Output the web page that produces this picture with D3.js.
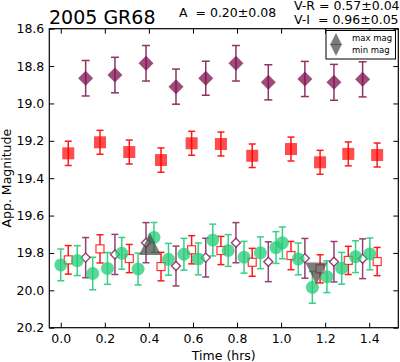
<html>
  <head>
    <style>
      body { margin: 0; background: #fff; }
      text { font-family: "DejaVu Sans", sans-serif; }
    </style>
  </head>
  <body>
    <svg width="400" height="362"></svg>
    <script src="https://d3js.org/d3.v7.min.js"></script>
    <script>
      // R band (filled squares) and I band (filled diamonds)
      var rTime = [0.034, 0.178, 0.311, 0.455, 0.594, 0.727, 0.869, 1.045, 1.177, 1.305, 1.436];
      var rMag  = [19.267, 19.208, 19.260, 19.303, 19.213, 19.217, 19.280, 19.244, 19.315, 19.270, 19.276];
      var rErr  = [0.065, 0.064, 0.064, 0.065, 0.064, 0.064, 0.063, 0.064, 0.064, 0.064, 0.064];

      var iTime = [0.113, 0.246, 0.387, 0.523, 0.658, 0.795, 0.942, 1.108, 1.240, 1.370];
      var iMag  = [18.865, 18.848, 18.785, 18.910, 18.865, 18.785, 18.887, 18.869, 18.887, 18.871];
      var iErr  = [0.095, 0.095, 0.095, 0.094, 0.091, 0.095, 0.094, 0.094, 0.096, 0.094];

      // V band (green circles)
      var vTime = [0.000, 0.075, 0.145, 0.212, 0.277, 0.351, 0.423, 0.489, 0.559, 0.624, 0.690,
                   0.760, 0.832, 0.906, 0.977, 1.006, 1.078, 1.142, 1.208, 1.275, 1.338, 1.403];
      var vMag  = [19.864, 19.841, 19.910, 19.883, 19.802, 19.886, 19.717, 19.834, 19.807, 19.832, 19.731,
                   19.787, 19.823, 19.799, 19.771, 19.746, 19.832, 19.984, 19.927, 19.882, 19.820, 19.805];
      var vErr  = [0.085, 0.080, 0.087, 0.085, 0.085, 0.085, 0.080, 0.085, 0.085, 0.085, 0.085,
                   0.085, 0.085, 0.085, 0.085, 0.085, 0.085, 0.085, 0.085, 0.085, 0.085, 0.085];

      var colorVR = 0.57, colorVRErr = 0.04;
      var colorVI = 0.96, colorVIErr = 0.05;

      // light-curve extremes
      var maxMag = { t: 0.405, mag: 19.752 };
      var minMag = { t: 1.160, mag: 19.910 };

      var xTicks = [0.0, 0.2, 0.4, 0.6, 0.8, 1.0, 1.2, 1.4];
      var yTicks = [18.6, 18.8, 19.0, 19.2, 19.4, 19.6, 19.8, 20.0, 20.2];

      var svg = d3.select("svg");
      var pL = 49.3, pR = 398.3, pT = 28.7, pB = 327.7;

      var x = d3.scaleLinear().domain([-0.052, 1.532]).range([pL, pR]);
      var y = d3.scaleLinear().domain([18.6, 20.2]).range([pT, pB]);

      var cGreen = "#22cc77", cRed = "#ff0000", cPurple = "#7d1050";

      function errorBars(g, t, m, e, color, op, cap) {
        var d = t.map(function(v, i) { return { t: v, m: m[i], e: e[i] }; });
        var bars = g.append("g").attr("stroke", color).attr("stroke-width", 1.5).attr("opacity", op);
        bars.selectAll(".v").data(d).enter().append("line")
          .attr("x1", function(p) { return x(p.t); }).attr("x2", function(p) { return x(p.t); })
          .attr("y1", function(p) { return y(p.m - p.e); }).attr("y2", function(p) { return y(p.m + p.e); });
        [-1, 1].forEach(function(s) {
          bars.selectAll(".c" + s).data(d).enter().append("line")
            .attr("x1", function(p) { return x(p.t) - cap; }).attr("x2", function(p) { return x(p.t) + cap; })
            .attr("y1", function(p) { return y(p.m + s * p.e); }).attr("y2", function(p) { return y(p.m + s * p.e); });
        });
        return d;
      }

      function diamond(r) {
        return "M0," + (-r) + "L" + r + ",0L0," + r + "L" + (-r) + ",0Z";
      }
      function triangle(w, h) {
        return "M0," + (-h / 2) + "L" + (w / 2) + "," + (h / 2) + "L" + (-w / 2) + "," + (h / 2) + "Z";
      }

      var plot = svg.append("g");

      // shifted R and I points (open markers)
      var rShift = errorBars(plot, rTime, rMag.map(function(m) { return m + colorVR; }),
        rErr.map(function(e) { return Math.sqrt(e * e + colorVRErr * colorVRErr); }), cRed, 0.9, 3.5);
      var iShift = errorBars(plot, iTime, iMag.map(function(m) { return m + colorVI; }),
        iErr.map(function(e) { return Math.sqrt(e * e + colorVIErr * colorVIErr); }), cPurple, 0.8, 3.5);
      var vData = errorBars(plot, vTime, vMag, vErr, cGreen, 0.9, 3.5);

      plot.selectAll(".rs").data(rShift).enter().append("rect")
        .attr("x", function(p) { return x(p.t) - 4; }).attr("y", function(p) { return y(p.m) - 4; })
        .attr("width", 8).attr("height", 8)
        .attr("fill", "#fff").attr("stroke", cRed).attr("stroke-width", 1.2).attr("stroke-opacity", 0.8);
      plot.selectAll(".is").data(iShift).enter().append("path")
        .attr("d", diamond(4.5))
        .attr("transform", function(p) { return "translate(" + x(p.t) + "," + y(p.m) + ")"; })
        .attr("fill", "#fff").attr("stroke", cPurple).attr("stroke-width", 1.4).attr("stroke-opacity", 0.8);
      plot.selectAll(".vc").data(vData).enter().append("circle")
        .attr("cx", function(p) { return x(p.t); }).attr("cy", function(p) { return y(p.m); })
        .attr("r", 6.5).attr("fill", cGreen).attr("fill-opacity", 0.75);

      // R and I
      var rData = errorBars(plot, rTime, rMag, rErr, cRed, 0.9, 3.5);
      var iData = errorBars(plot, iTime, iMag, iErr, cPurple, 0.85, 4);

      plot.selectAll(".rf").data(rData).enter().append("rect")
        .attr("x", function(p) { return x(p.t) - 6; }).attr("y", function(p) { return y(p.m) - 6; })
        .attr("width", 12).attr("height", 12)
        .attr("fill", cRed).attr("fill-opacity", 0.7);
      plot.selectAll(".if").data(iData).enter().append("path")
        .attr("d", diamond(7.5))
        .attr("transform", function(p) { return "translate(" + x(p.t) + "," + y(p.m) + ")"; })
        .attr("fill", cPurple).attr("fill-opacity", 0.75);

      // extreme markers
      plot.append("path").attr("d", triangle(22, 22))
        .attr("transform", "translate(" + x(maxMag.t) + "," + y(maxMag.mag) + ")")
        .attr("fill", "#444").attr("fill-opacity", 0.7);
      plot.append("path").attr("d", triangle(22, 22))
        .attr("transform", "translate(" + x(minMag.t) + "," + y(minMag.mag) + ") rotate(180)")
        .attr("fill", "#444").attr("fill-opacity", 0.7);

      // axes
      var ax = svg.append("g");
      ax.append("rect").attr("x", pL).attr("y", pT).attr("width", pR - pL).attr("height", pB - pT)
        .attr("fill", "none").attr("stroke", "#000").attr("stroke-width", 1.2);

      function tickText(g) {
        g.select(".domain").remove();
        g.selectAll("text").attr("font-size", 12.5).attr("font-family", "DejaVu Sans").attr("fill", "#000");
      }
      ax.append("g").attr("transform", "translate(0," + pB + ")")
        .call(d3.axisBottom(x).tickValues(xTicks).tickFormat(d3.format(".1f")).tickSizeInner(-5).tickSizeOuter(0).tickPadding(6))
        .call(tickText);
      ax.append("g").attr("transform", "translate(0," + pT + ")")
        .call(d3.axisTop(x).tickValues(xTicks).tickFormat("").tickSizeInner(-5).tickSizeOuter(0))
        .call(tickText);
      ax.append("g").attr("transform", "translate(" + pL + ",0)")
        .call(d3.axisLeft(y).tickValues(yTicks).tickFormat(d3.format(".1f")).tickSizeInner(-5).tickSizeOuter(0).tickPadding(5))
        .call(tickText);
      ax.append("g").attr("transform", "translate(" + pR + ",0)")
        .call(d3.axisRight(y).tickValues(yTicks).tickFormat("").tickSizeInner(-5).tickSizeOuter(0))
        .call(tickText);

      svg.append("text").attr("x", (pL + pR) / 2).attr("y", 359.5).attr("text-anchor", "middle")
        .attr("font-size", 12.5).text("Time (hrs)");
      svg.append("text").attr("transform", "translate(11," + (pT + pB) / 2 + ") rotate(-90)")
        .attr("text-anchor", "middle").attr("font-size", 12.5).text("App. Magnitude");

      // titles
      svg.append("text").attr("x", 49).attr("y", 24).attr("font-size", 19).text("2005 GR68");
      svg.append("text").attr("x", 179).attr("y", 17).attr("font-size", 12.5).attr("xml:space", "preserve").text("A  = 0.20\u00b10.08");
      svg.append("text").attr("x", 294).attr("y", 10).attr("font-size", 12.5).attr("xml:space", "preserve").text("V-R = 0.57\u00b10.04");
      svg.append("text").attr("x", 294).attr("y", 24).attr("font-size", 12.5).attr("xml:space", "preserve").text("V-I  = 0.96\u00b10.05");

      // legend
      var lg = svg.append("g");
      lg.append("rect").attr("x", 326).attr("y", 30.5).attr("width", 69.5).attr("height", 28.5)
        .attr("fill", "#fff").attr("stroke", "#000").attr("stroke-width", 1);
      lg.append("path").attr("d", triangle(12, 12)).attr("transform", "translate(336,39)").attr("fill", "#444").attr("fill-opacity", 0.7);
      lg.append("path").attr("d", triangle(12, 12)).attr("transform", "translate(336,50) rotate(180)").attr("fill", "#444").attr("fill-opacity", 0.7);
      lg.append("text").attr("x", 352).attr("y", 41).attr("font-size", 8.5).text("max mag");
      lg.append("text").attr("x", 352).attr("y", 53).attr("font-size", 8.5).text("min mag");
    </script>
  </body>
</html>
